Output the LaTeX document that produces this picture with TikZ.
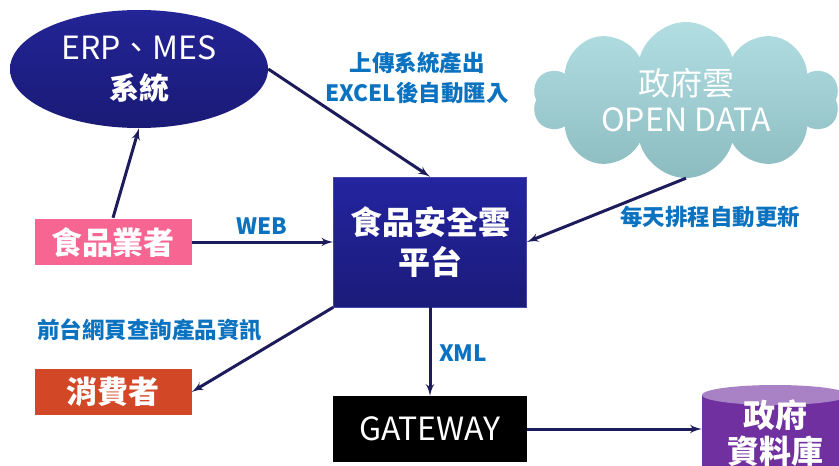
\documentclass[tikz,border=0pt]{standalone}
\usepackage{fontspec}
\setmainfont{Noto Sans CJK TC}
\usetikzlibrary{arrows}
\usetikzlibrary{shapes.geometric}
\usetikzlibrary{shapes.symbols}
\definecolor{navyline}{HTML}{1C1C5C}
\definecolor{labelblue}{HTML}{0B72C0}
\definecolor{pinkbox}{HTML}{F76592}
\definecolor{orangebox}{HTML}{D24726}
\definecolor{dbside}{HTML}{7030A0}
\definecolor{dbtop}{HTML}{A982C6}
\tikzset{conn/.style = {draw=navyline, line width=3pt, -latex'},
         bigtext/.style = {text=white, font=\fontsize{32}{40}\selectfont},
         lbl/.style = {text=labelblue, font=\fontsize{22.5}{30}\selectfont\bfseries, align=center},
         actor/.style = {bigtext, font=\fontsize{31}{40}\selectfont\bfseries,
                         minimum width=157pt, minimum height=46pt, inner sep=0pt}}

\begin{document}
\begin{tikzpicture}[x=1pt, y=-1pt]
      \useasboundingbox (0, 0) rectangle (839, 466);
      \clip (0, 0) rectangle (839, 466);

      % systems and actors
      \node [ellipse, top color={rgb,255:red,35;green,36;blue,150}, bottom color={rgb,255:red,26;green,26;blue,118},
             minimum width=258pt, minimum height=118pt, inner sep=0pt,
             bigtext, align=center] (erp) at (139, 69) {ERP、MES\\\fontsize{30}{40}\selectfont\bfseries 系統};

      \node [cloud, cloud puffs=10, aspect=2.3, inner sep=0pt,
             top color={rgb,255:red,178;green,222;blue,226}, bottom color={rgb,255:red,140;green,188;blue,192},
             minimum width=306pt, minimum height=130pt,
             bigtext, font=\fontsize{32}{36}\selectfont, align=center] (cloud) at (686, 100) {政府雲\\OPEN DATA};

      \node [rectangle, top color={rgb,255:red,36;green,36;blue,160}, bottom color={rgb,255:red,27;green,27;blue,122},
             draw={rgb,255:red,70;green,70;blue,170}, line width=0.6pt,
             minimum width=193pt, minimum height=130pt, inner sep=0pt,
             bigtext, font=\fontsize{32}{40}\selectfont\bfseries, align=center] (cloudplat) at (430, 242) {食品安全雲\\平台};

      \node [actor, fill=pinkbox] (maker) at (113, 242) {食品業者};
      \node [actor, fill=orangebox] (buyer) at (113, 392) {消費者};

      \node [rectangle, fill=black, minimum width=194pt, minimum height=66pt, inner sep=0pt,
             bigtext] (gate) at (430, 429) {GATEWAY};

      % government database
      \fill [dbside] (702, 395) -- (702, 480) -- (848, 480) -- (848, 395) -- cycle;
      \fill [dbtop] (775, 395) ellipse [x radius=73, y radius=10];
      \node [bigtext, font=\fontsize{32}{36}\selectfont\bfseries, align=center,
             minimum width=146pt, inner sep=0pt] (db) at (775, 433) {政府\\資料庫};

      % connectors
      \draw [conn] (maker.north) ++(0, -1) -- (erp.south);
      \draw [conn] (erp.east) -- (cloudplat.north);
      \draw [conn] (cloud.south) -- (cloudplat.east);
      \draw [conn] (maker.east) -- (cloudplat.west);
      \draw [conn] (cloudplat.south west) -- (buyer.east);
      \draw [conn] (cloudplat.south) -- (gate.north);
      \draw [conn] (gate.east) -- (gate.east -| db.west);

      % labels
      \node [lbl] (uplbl) at (417, 78) {上傳系統產出\\EXCEL後自動匯入};
      \node [lbl] (dailylbl) at (710, 217) {每天排程自動更新};
      \node [lbl] (weblbl) at (262, 226) {WEB};
      \node [lbl] (querylbl) at (150, 330) {前台網頁查詢產品資訊};
      \node [lbl] (xmllbl) at (463, 353) {XML};
\end{tikzpicture}
\end{document}
